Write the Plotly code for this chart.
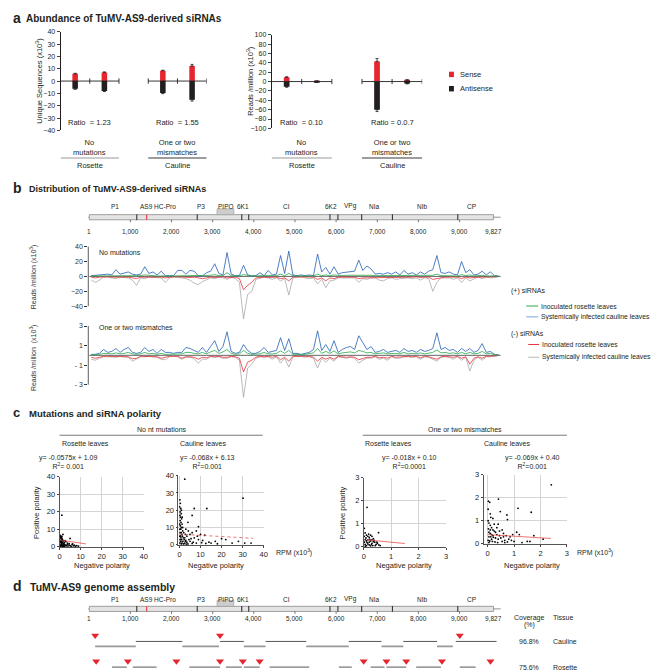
import plotly.graph_objects as go

W, H = 660, 671
FONT = "Liberation Sans"
RED = "#e5262f"
BLACK = "#231f20"
BLUE = "#2160b8"
GREEN = "#2aa84a"
TRED = "#e8303a"
GRAY = "#a8a8a8"


def X(p):
    return p / W


def Y(p):
    return 1 - p / H


# ---------------- data ----------------
# a: abundance of siRNAs (rosette no-mut, rosette 2nd bar, cauline mm, cauline 2nd bar)
uniq_sense = [5.9, 7.0, 8.4, 12.2]
uniq_anti = [-6.2, -8.0, -9.7, -15.1]
uniq_sense_err = [0.4, 0.4, 0.4, 1.3]
uniq_anti_err = [0.5, 0.5, 0.5, 1.1]
rpm_sense = [9, 1, 43, 3]
rpm_anti = [-11, -1, -60, -4]
rpm_sense_err = [1.2, 0.3, 6, 1]
rpm_anti_err = [1, 0.3, 4, 1]
ratio_uniq = ["Ratio  = 1.23", "Ratio  = 1.55"]
ratio_rpm = ["Ratio  = 0.10", "Ratio = 0.0.7"]
group_names = ["No<br>mutations", "One or two<br>mismatches"]
tissue_names = ["Rosette", "Cauline"]

# genome map
genome_ticks = [1, 1000, 2000, 3000, 4000, 5000, 6000, 7000, 8000, 9000, 9827]
genome_ticktext = ["1", "1,000", "2,000", "3,000", "4,000", "5,000", "6,000",
                   "7,000", "8,000", "9,000", "9,827"]
gene_names = ["P1", "AS9 HC-Pro", "P3", "PIPO", "6K1", "CI", "6K2", "VPg", "NIa", "NIb", "CP"]
gene_label_pos = [626, 1662, 2721, 3323, 3732, 4792, 5876, 6357, 6935, 8091, 9295]
gene_bounds = [1156, 2625, 3708, 3877, 5851, 6044, 6622, 7368, 8958]
mutation_pos = 1397
pipo_span = [3106, 3516]

# b: siRNA distribution, 100-nt bins
bin_pos = [50 + 100 * i for i in range(100)]
nomut_plus_rosette = [
    0.5, 0.5, 0.5, 1, 1, 0.5, 1.5, 1, 1, 1,
    0.5, 0.5, 1, 2, 1, 1, 0.5, 1, 0.5, 0.5,
    0.5, 1.5, 1.5, 1, 1.5, 1, 0.5, 0.5, 1, 1.5,
    2.5, 1, 1, 5, 1, 0.5, 0.5, 2.5, 1, 0.5,
    0.5, 1, 0.5, 1.5, 1, 1, 3, 1, 4, 1,
    0.5, 0.5, 0.5, 0.5, 0.5, 3, 1, 2, 1, 2,
    1, 1, 1.5, 1.5, 1.5, 2.5, 1.5, 2, 1.5, 1,
    1, 1, 1, 1, 1, 0.5, 1.5, 1, 1, 0.5,
    1, 1, 1.5, 1.5, 3, 1, 1, 1, 1, 0.5,
    2.5, 1, 2, 0.5, 1, 1.5, 0.5, 1, 0.5, 0.2]
nomut_plus_cauline = [
    1, 1.5, 2, 2, 3, 2, 9, 3, 4, 6,
    3, 2, 3, 13, 4, 6, 2, 7, 1, 0.5,
    1, 8, 8, 3, 8, 7, 1, 0.5, 5, 7,
    17, 4, 2, 32, 3, 1, 1, 15, 2, 1,
    1, 5, 1, 8, 2, 3, 28, 4, 34, 2,
    1, 2, 1, 2, 1, 30, 6, 12, 3, 13,
    3, 5, 6, 7, 7, 22, 8, 14, 10, 3,
    4, 3, 5, 3, 6, 2, 8, 3, 5, 2,
    6, 3, 7, 9, 28, 5, 4, 6, 3, 2,
    20, 5, 9, 2, 3, 7, 2, 6, 1, 0.5]
nomut_minus_rosette = [
    -1, -2, -1, -0.5, -0.5, -1, -1, -0.5, -0.5, -1,
    -2, -3, -1, -1, -0.5, -0.5, -1, -1, -2, -1,
    -0.5, -0.5, -1, -1, -1.5, -1, -2, -3, -2, -1,
    -1.5, -1, -0.5, -2, -1, -1, -3, -18, -12, -8,
    -2, -1, -1, -1.5, -1, -1, -3, -2, -6, -1,
    -0.5, -0.5, -1, -1, -1, -4, -2, -6, -2, -3,
    -1, -1, -1.5, -1, -1, -3, -2, -2, -1.5, -1,
    -2, -1.5, -2, -1, -1.5, -1, -1, -1, -1, -0.5,
    -1.5, -1, -1, -4, -3, -1, -1, -1, -1.5, -1,
    -3, -1, -2, -1, -1, -1, -0.5, -1, -0.5, -0.2]
nomut_minus_cauline = [
    -5, -8, -5, -1, -1, -2, -3, -1, -1, -2,
    -5, -12, -2, -3, -1, -1, -2, -2, -8, -2,
    -1, -1, -2, -3, -5, -9, -11, -7, -4, -2,
    -3, -1, -2, -4, -1, -3, -8, -57, -24, -20,
    -4, -2, -1, -2, -4, -2, -6, -3, -25, -2,
    -1, -1, -2, -3, -2, -10, -4, -15, -6, -5,
    -2, -2, -3, -2, -2, -8, -3, -4, -2, -2,
    -5, -6, -3, -2, -4, -3, -2, -2, -3, -2,
    -5, -2, -3, -20, -8, -2, -2, -2, -4, -2,
    -8, -2, -6, -3, -1, -3, -1, -2, -1, -0.5]
mm_plus_rosette = [
    0.05, 0.05, 0.1, 0.2, 0.15, 0.15, 0.25, 0.15, 0.2, 0.3,
    0.15, 0.1, 0.15, 0.3, 0.15, 0.2, 0.1, 0.2, 0.1, 0.1,
    0.1, 0.15, 0.15, 0.3, 0.3, 0.2, 0.15, 0.3, 0.15, 0.35,
    0.5, 0.2, 0.35, 0.6, 0.2, 0.1, 0.15, 0.5, 0.2, 0.1,
    0.1, 0.15, 0.3, 0.15, 0.15, 0.2, 0.45, 0.2, 0.5, 0.1,
    0.1, 0.05, 0.1, 0.15, 0.25, 0.7, 0.2, 0.4, 0.2, 0.45,
    0.15, 0.25, 0.3, 0.35, 0.25, 0.5, 0.4, 0.25, 0.3, 0.15,
    0.2, 0.25, 0.15, 0.2, 0.2, 0.15, 0.3, 0.15, 0.2, 0.15,
    0.25, 0.15, 0.2, 0.3, 0.55, 0.25, 0.3, 0.2, 0.25, 0.15,
    0.3, 0.15, 0.3, 0.15, 0.2, 0.4, 0.15, 0.2, 0.05, 0.02]
mm_plus_cauline = [
    0.1, 0.1, 0.2, 0.6, 0.3, 0.4, 0.7, 0.3, 0.6, 0.8,
    0.3, 0.2, 0.3, 0.8, 0.4, 0.6, 0.2, 0.6, 0.3, 0.3,
    0.2, 0.3, 0.3, 0.8, 0.7, 0.5, 0.3, 0.8, 0.3, 0.9,
    1.5, 0.4, 0.9, 2.4, 0.4, 0.2, 0.3, 1.1, 0.5, 0.2,
    0.2, 0.4, 0.8, 0.3, 0.4, 0.5, 1.8, 0.5, 1.7, 0.2,
    0.2, 0.1, 0.2, 0.3, 0.6, 2.5, 0.5, 1.1, 0.4, 1.5,
    0.3, 0.6, 0.8, 0.9, 0.6, 2.0, 1.3, 0.6, 0.9, 0.3,
    0.4, 0.6, 0.3, 0.4, 0.5, 0.3, 0.7, 0.4, 0.5, 0.3,
    0.6, 0.4, 0.5, 0.7, 2.3, 0.6, 0.8, 0.5, 0.6, 0.3,
    0.7, 0.4, 0.7, 0.3, 0.5, 1.2, 0.3, 0.4, 0.1, 0.05]
mm_minus_rosette = [
    -0.2, -0.3, -0.2, -0.1, -0.1, -0.1, -0.15, -0.1, -0.1, -0.15,
    -0.35, -0.3, -0.1, -0.1, -0.1, -0.1, -0.15, -0.3, -0.2, -0.1,
    -0.1, -0.1, -0.3, -0.15, -0.15, -0.2, -0.4, -0.2, -0.25, -0.1,
    -0.15, -0.1, -0.2, -0.2, -0.1, -0.15, -0.3, -1.7, -0.7, -0.5,
    -0.2, -0.1, -0.15, -0.1, -0.2, -0.1, -0.45, -0.2, -0.6, -0.1,
    -0.1, -0.1, -0.15, -0.1, -0.2, -0.6, -0.2, -0.4, -0.2, -0.4,
    -0.1, -0.15, -0.2, -0.15, -0.2, -0.45, -0.3, -0.2, -0.2, -0.1,
    -0.25, -0.2, -0.3, -0.1, -0.2, -0.15, -0.1, -0.1, -0.15, -0.1,
    -0.25, -0.1, -0.15, -0.3, -0.4, -0.15, -0.1, -0.15, -0.2, -0.1,
    -0.3, -0.15, -0.9, -0.3, -0.15, -0.3, -0.1, -0.1, -0.05, -0.02]
mm_minus_cauline = [
    -0.4, -0.5, -0.3, -0.15, -0.15, -0.2, -0.2, -0.1, -0.15, -0.2,
    -0.6, -0.4, -0.15, -0.15, -0.1, -0.15, -0.2, -0.4, -0.45, -0.15,
    -0.1, -0.15, -0.4, -0.2, -0.2, -0.35, -0.8, -0.4, -0.4, -0.15,
    -0.2, -0.15, -0.3, -0.3, -0.15, -0.2, -0.5, -4.3, -1.3, -0.9,
    -0.3, -0.15, -0.2, -0.15, -0.4, -0.15, -0.8, -0.3, -1.2, -0.15,
    -0.1, -0.1, -0.2, -0.15, -0.3, -1.3, -0.3, -0.7, -0.3, -0.6,
    -0.15, -0.2, -0.3, -0.2, -0.3, -0.8, -0.5, -0.3, -0.3, -0.15,
    -0.4, -0.3, -0.5, -0.15, -0.3, -0.3, -0.15, -0.15, -0.2, -0.15,
    -0.4, -0.15, -0.2, -0.4, -0.6, -0.2, -0.15, -0.2, -0.4, -0.15,
    -0.5, -0.2, -1.6, -0.5, -0.2, -0.5, -0.15, -0.15, -0.05, -0.02]

# c: negative vs positive polarity RPM per position (x = negative, y = positive)
pol_rosette_nomut = [
    (1.1, 18), (1.6, 7), (5, 4.7), (0.2, 0.2), (0.4, 0.4), (0.6, 0.8), (0.8, 1.2), (1.0, 1.6),
    (1.2, 2.0), (0.3, 2.4), (0.5, 2.8), (0.7, 3.2), (0.9, 3.6), (1.1, 4.0), (1.4, 0.3), (1.6, 0.7),
    (1.8, 1.1), (2.0, 1.5), (0.2, 4.5), (0.5, 5.0), (0.8, 5.4), (1.2, 4.8), (1.5, 3.9), (2.2, 2.5),
    (2.5, 1.2), (0.3, 0.5), (0.6, 0.2), (1.0, 0.9), (1.4, 0.6), (1.9, 0.4), (2.4, 0.3), (2.8, 0.8),
    (3.2, 0.5), (3.6, 1.2), (4.0, 0.4), (4.5, 1.0), (5.0, 0.6), (5.5, 0.3), (6.0, 1.3), (6.5, 0.5),
    (7.0, 0.9), (7.5, 0.3), (8.2, 0.6), (9.0, 0.4), (0.4, 3.0), (0.9, 2.2), (1.3, 2.7), (1.7, 3.3),
    (2.1, 1.9), (0.6, 6.0), (1.1, 5.9), (0.3, 6.5), (3.0, 2.9), (6.2, 1.6), (2.6, 3.5), (0.1, 1.0),
    (0.1, 3.0), (0.2, 5.5), (3.8, 2.0), (4.6, 1.8)]
pol_cauline_nomut = [
    (2.5, 38), (30.2, 27), (0.2, 26), (0.4, 24), (0.1, 22), (0.6, 21), (0.3, 19), (0.8, 18),
    (0.2, 17), (0.5, 16), (1.0, 15), (0.3, 14), (0.7, 13), (0.1, 12), (1.2, 12), (0.4, 11),
    (0.9, 10), (0.2, 9), (0.6, 9), (1.5, 8), (0.3, 7), (0.8, 7), (1.1, 6), (0.2, 5), (0.5, 5),
    (1.4, 5), (0.7, 4), (1.8, 4), (0.3, 3), (1.0, 3), (2.2, 3), (0.6, 2), (1.6, 2), (2.8, 2),
    (0.2, 1), (1.2, 1), (2.5, 1), (3.5, 1.5), (0.9, 0.5), (2.0, 0.5), (4.0, 0.5), (7, 21),
    (13, 21), (6, 17), (4, 13), (9, 10.5), (8, 8), (6, 7), (3, 9), (5, 6), (10, 6), (12, 5.5),
    (3.5, 5), (7, 4), (9, 3), (5, 2), (6.5, 1.5), (8, 1), (11, 2.5), (14, 1.5), (15, 1), (17, 2),
    (20, 3.5), (22, 3), (25, 1), (28, 2), (31, 1), (34, 1), (2.5, 4), (4.5, 3), (3, 2.5),
    (5.5, 3.5), (8.5, 5), (2, 7), (1.5, 10), (2.8, 6), (4.2, 8), (1.3, 16), (0.9, 20),
    (10.5, 1.2), (12.5, 0.8), (18, 0.6), (6, 0.8), (3.2, 0.4)]
pol_rosette_mm = [
    (0.12, 1.71), (0.54, 0.61), (0.02, 0.8), (0.05, 0.6), (0.1, 0.5), (0.15, 0.45), (0.2, 0.4),
    (0.25, 0.5), (0.3, 0.45), (0.35, 0.35), (0.05, 0.3), (0.1, 0.25), (0.15, 0.3), (0.2, 0.2),
    (0.25, 0.25), (0.3, 0.15), (0.4, 0.2), (0.45, 0.1), (0.5, 0.15), (0.55, 0.08), (0.6, 0.05),
    (0.05, 0.1), (0.1, 0.05), (0.15, 0.12), (0.2, 0.08), (0.25, 0.04), (0.3, 0.3), (0.35, 0.22),
    (0.02, 0.45), (0.08, 0.38), (0.12, 0.18), (0.18, 0.55), (0.28, 0.1), (0.38, 0.28),
    (0.42, 0.05), (0.48, 0.2), (0.02, 0.2), (0.06, 0.02), (0.33, 0.05), (0.22, 0.32)]
pol_cauline_mm = [
    (2.41, 2.56), (0.41, 1.94), (0.03, 1.85), (0.08, 1.8), (1.15, 1.54), (1.65, 1.37), (0.48, 1.4),
    (0.73, 1.25), (0.02, 1.5), (0.1, 1.3), (0.2, 1.1), (0.75, 1.05), (0.4, 0.85), (0.55, 0.6),
    (1.1, 0.5), (1.2, 0.4), (1.75, 0.35), (2.1, 0.2), (1.5, 0.1), (1.6, 0.1), (0.02, 1.0),
    (0.05, 0.9), (0.1, 0.8), (0.15, 0.7), (0.03, 0.65), (0.2, 0.6), (0.25, 0.55), (0.3, 0.5),
    (0.05, 0.5), (0.1, 0.45), (0.15, 0.4), (0.35, 0.4), (0.45, 0.35), (0.05, 0.3), (0.12, 0.3),
    (0.22, 0.28), (0.3, 0.25), (0.4, 0.2), (0.5, 0.25), (0.6, 0.3), (0.7, 0.35), (0.8, 0.2),
    (0.9, 0.15), (0.02, 0.15), (0.08, 0.12), (0.18, 0.1), (0.28, 0.08), (0.38, 0.05), (0.55, 0.1),
    (0.65, 0.05), (0.75, 0.08), (0.85, 0.3), (1.0, 0.1), (1.3, 0.05), (0.25, 0.85), (0.12, 1.15),
    (0.35, 0.7), (0.6, 0.45), (0.95, 0.4), (0.05, 0.05), (0.15, 0.2), (0.45, 0.55), (0.65, 0.15),
    (0.2, 0.35), (0.1, 0.6)]
trend_x = [[0.5, 12.5], [0, 35], [0.1, 1.5], [0, 2.4]]
trend_y = [[3.8, 1.6], [6.13, 3.75], [0.3, 0.14], [0.40, 0.23]]
equations = ["y= -0.0575x + 1.09<br>R<sup>2</sup>= 0.001", "y= -0.068x + 6.13<br>R<sup>2</sup>=0.001",
             "y= -0.018x + 0.10<br>R<sup>2</sup>=0.0001", "y= -0.069x + 0.40<br>R<sup>2</sup>=0.001"]

# d: assembled contigs (start, end) and mismatch sites
cauline_contigs_a = [(1132, 2264), (3179, 3757), (4286, 5274), (6309, 7104), (7633, 8452), (8909, 9900)]
cauline_contigs_b = [(144, 1132), (2264, 3154), (3757, 4286), (5274, 6309), (7104, 7633), (8452, 8837)]
rosette_contigs_a = [(554, 915), (1060, 1637), (2432, 3179), (3323, 3708), (3757, 4142), (4383, 5346),
                     (6068, 6381), (6839, 7176), (7224, 7706), (7946, 8548), (9006, 9391)]
rosette_contigs_b = [(241, 554), (1637, 2143), (5346, 6068), (6381, 6694), (9415, 9704)]
cauline_sites = [144, 3179, 9006]
rosette_sites = [169, 939, 2119, 3179, 3732, 4142, 6670, 7224, 7706, 8573, 9752]
coverage = ["96.8%", "75.6%"]

# ---------------- figure ----------------
fig = go.Figure()
shapes, annos = [], []


def txt(x, y, s, size=7, anchor="center", xref="paper", angle=0, color=BLACK, bold=False):
    if bold:
        s = "<b>" + s + "</b>"
    annos.append(dict(x=X(x) if xref == "paper" else x, y=Y(y), xref=xref, yref="paper", text=s,
                      showarrow=False, xanchor=anchor, yanchor="middle", textangle=angle,
                      font=dict(family=FONT, size=size, color=color)))


def line(x0, y0, x1, y1, xref="paper", yref="paper", color=BLACK, width=0.8, dash="solid", layer="above"):
    shapes.append(dict(type="line", xref=xref, yref=yref,
                       x0=X(x0) if xref == "paper" else x0, x1=X(x1) if xref == "paper" else x1,
                       y0=Y(y0) if yref == "paper" else y0, y1=Y(y1) if yref == "paper" else y1,
                       line=dict(color=color, width=width, dash=dash), layer=layer))


# ---- panel a ----
BAR_X = [0.5, 1.5, 3.5, 4.5]
txt(1, 6, "a", size=14, anchor="left", bold=True)
txt(14, 7, "Abundance of TuMV-AS9-derived siRNAs", size=10, anchor="left", bold=True)

for (xa, ya, sense, anti, se, ae, tick_h, ratios) in [
        ("x", "y", uniq_sense, uniq_anti, uniq_sense_err, uniq_anti_err, 2.2, ratio_uniq),
        ("x2", "y2", rpm_sense, rpm_anti, rpm_sense_err, rpm_anti_err, 5.5, ratio_rpm)]:
    fig.add_trace(go.Bar(x=BAR_X, y=sense, width=0.19, marker=dict(color=RED, line_width=0),
                         error_y=dict(type="data", symmetric=False, array=se, arrayminus=[0] * 4,
                                      color=BLACK, thickness=0.8, width=1.5),
                         xaxis=xa, yaxis=ya, showlegend=False))
    fig.add_trace(go.Bar(x=BAR_X, y=anti, width=0.19, marker=dict(color=BLACK, line_width=0),
                         error_y=dict(type="data", symmetric=False, array=[0] * 4, arrayminus=ae,
                                      color=BLACK, thickness=0.8, width=1.5),
                         xaxis=xa, yaxis=ya, showlegend=False))
    for gi, (g0, g1) in enumerate([(0, 2), (3, 5)]):
        line(g0, 0, g1, 0, xref=xa, yref=ya, width=0.9)
        for t in [g0, g0 + 1, g1]:
            if t > 0:
                line(t, -tick_h, t, tick_h, xref=xa, yref=ya, width=0.9)
        xc = (g0 + g1) / 2
        annos.append(dict(x=xc, y=Y(112), xref=xa, yref="paper", text=ratios[gi], showarrow=False,
                          yanchor="middle", font=dict(size=7.5, family=FONT, color=BLACK)))
        annos.append(dict(x=xc, y=Y(137), xref=xa, yref="paper", text=group_names[gi], showarrow=False,
                          yanchor="middle", font=dict(size=7.5, family=FONT, color=BLACK)))
        line(g0, 148, g1, 148, xref=xa, color="#9a9a9a" if gi == 0 else "#3a3a3a", width=1.2)
        annos.append(dict(x=xc, y=Y(156), xref=xa, yref="paper", text=tissue_names[gi], showarrow=False,
                          yanchor="middle", font=dict(size=7.5, family=FONT, color=BLACK)))

txt(29, 70, "Unique Sequences (x10<sup>3</sup>)", size=7.5, angle=-90)
txt(242, 70, "Reads /million (x10<sup>3</sup>)", size=7.5, angle=-90)
shapes.append(dict(type="rect", xref="paper", yref="paper", x0=X(443), x1=X(448), y0=Y(66), y1=Y(60.5),
                   fillcolor=RED, line_width=0))
shapes.append(dict(type="rect", xref="paper", yref="paper", x0=X(443), x1=X(448), y0=Y(80.5), y1=Y(75),
                   fillcolor=BLACK, line_width=0))
txt(452, 63.5, "Sense", size=7.5, anchor="left")
txt(452, 78, "Antisense", size=7.5, anchor="left")


# ---- genome map helper ----
def genome_map(xref, yc, ylab, ytick):
    top, bot = yc - 2.6, yc + 2.6
    line(-70, yc, 1, yc, xref=xref, color="#777", width=0.8)
    line(9827, yc, 10000, yc, xref=xref, color="#777", width=0.8)
    shapes.append(dict(type="rect", xref=xref, yref="paper", x0=1, x1=9827, y0=Y(bot), y1=Y(top),
                       fillcolor="#e4e4e4", line=dict(color="#8a8a8a", width=0.8)))
    shapes.append(dict(type="rect", xref=xref, yref="paper", x0=pipo_span[0], x1=pipo_span[1],
                       y0=Y(top), y1=Y(top - 6), fillcolor="#cdcdcd", line=dict(color="#9a9a9a", width=0.6)))
    for g in gene_bounds:
        line(g, top - 0.3, g, bot + 0.3, xref=xref, color="#222", width=1)
    line(mutation_pos, top, mutation_pos, bot, xref=xref, color=RED, width=1)
    for t in genome_ticks[1:-1]:
        line(t, bot, t, bot + 2.5, xref=xref, color="#555", width=0.8)
    for t, s in zip(genome_ticks, genome_ticktext):
        txt(t, ytick, s, size=6.5, xref=xref)
    for p, s in zip(gene_label_pos, gene_names):
        txt(p, ylab, s, size=6.5, xref=xref)


# ---- panel b ----
txt(1, 178, "b", size=14, anchor="left", bold=True)
txt(17, 179, "Distribution of TuMV-AS9-derived siRNAs", size=9, anchor="left", bold=True)
genome_map("x3", 208, 197, 222)

for xa, ya, series in [("x3", "y3", [nomut_minus_cauline, nomut_minus_rosette, nomut_plus_cauline, nomut_plus_rosette]),
                       ("x4", "y4", [mm_minus_cauline, mm_minus_rosette, mm_plus_cauline, mm_plus_rosette])]:
    for vals, col in zip(series, [GRAY, TRED, BLUE, GREEN]):
        fig.add_trace(go.Scatter(x=bin_pos, y=vals, mode="lines", line=dict(color=col, width=0.8),
                                 xaxis=xa, yaxis=ya, showlegend=False, hoverinfo="skip"))
    line(1, 0, 10000, 0, xref=xa, yref=ya, color="#555", width=0.9, layer="below")

line(79, -40, 79, 40, yref="y3", color="#333")
line(79, -3, 79, 3, yref="y4", color="#333")
txt(88, 244, "No mutations", size=7, anchor="left")
txt(88, 320, "One or two mismatches", size=7, anchor="left")
txt(24, 268, "Reads /million (x10<sup>3</sup>)", size=7, angle=-90, color="#333")
txt(24, 350, "Reads /million  (x10<sup>3</sup>)", size=7, angle=-90, color="#333")

txt(504, 283, "(+) siRNAs", size=7, anchor="left")
line(521, 298, 533, 298, color=GREEN, width=1)
txt(534, 298, "Inoculated rosette leaves", size=6.8, anchor="left")
line(521, 309, 533, 309, color="#8fb2e4", width=1.2)
txt(534, 309, "Systemically infected cauline leaves", size=6.8, anchor="left")
txt(504, 326, "(-) siRNAs", size=7, anchor="left")
line(523, 337, 534, 337, color=TRED, width=1)
txt(535, 337, "Inoculated rosette leaves", size=6.8, anchor="left")
line(523, 350, 534, 350, color="#c4c4c4", width=1.2)
txt(535, 350, "Systemically infected cauline leaves", size=6.8, anchor="left")

# ---- panel c ----
txt(1, 406, "c", size=13, anchor="left", bold=True)
txt(17, 407, "Mutations and siRNA polarity", size=9.5, anchor="left", bold=True)
txt(153, 423, "No nt mutations", size=7)
line(50, 429, 255, 429, color="#555", width=0.8)
txt(459, 423, "One or two mismatches", size=7)
line(356, 429, 562, 429, color="#555", width=0.8)
for xx, s in [(50, "Rosette leaves"), (170, "Cauline leaves"), (356, "Rosette leaves"), (476, "Cauline leaves")]:
    txt(xx, 437, s, size=7, anchor="left")

scat = [("x5", "y5", pol_rosette_nomut, (50, 135), (471, 542), [0, 40], [0, 10, 20, 30, 40]),
        ("x6", "y6", pol_cauline_nomut, (170, 256), (470, 540), [-0.5, 40], [0, 10, 20, 30, 40]),
        ("x7", "y7", pol_rosette_mm, (357, 440), (472, 542), [0, 3], [0, 1, 2, 3]),
        ("x8", "y8", pol_cauline_mm, (478, 562), (469, 539), [-0.15, 3], [0, 1, 2, 3])]
eq_x = [59, 199, 403, 527]
neg_x = [93, 208, 398, 527]
for i, (xa, ya, pts, dx, dy, xr, tv) in enumerate(scat):
    fig.add_trace(go.Scatter(x=[p[0] for p in pts], y=[p[1] for p in pts], mode="markers",
                             marker=dict(color="black", size=1.8), xaxis=xa, yaxis=ya,
                             showlegend=False, cliponaxis=False))
    fig.add_trace(go.Scatter(x=trend_x[i], y=trend_y[i], mode="lines",
                             line=dict(color="#e8403a", width=0.9, dash="dot" if i == 1 else "solid"),
                             opacity=0.8, xaxis=xa, yaxis=ya, showlegend=False))
    ax = dict(domain=[X(dx[0]), X(dx[1])], range=xr, tickvals=tv, ticks="outside", ticklen=2,
              showgrid=True, gridcolor="#d4d4d4", gridwidth=0.8, showline=True, linecolor="#555",
              linewidth=0.8, zeroline=False, tickfont=dict(size=7.5), anchor=ya)
    ay = dict(domain=[Y(dy[1]), Y(dy[0])], range=[0, tv[-1]], tickvals=tv, ticks="outside", ticklen=2,
              showgrid=True, gridcolor="#d4d4d4", gridwidth=0.8, showline=True, linecolor="#555",
              linewidth=0.8, zeroline=False, tickfont=dict(size=7.5), anchor=xa)
    fig.layout["xaxis" + xa[1:]] = ax
    fig.layout["yaxis" + ya[1:]] = ay
    txt(eq_x[i], 456, equations[i], size=7)
    txt(neg_x[i], 561, "Negative polarity", size=7.5)
txt(26, 507, "Positive polarity", size=7.5, angle=-90)
txt(335, 507, "Positive polarity", size=7.5, angle=-90)
txt(266, 548, "RPM (x10<sup>3</sup>)", size=7, anchor="left")
txt(570, 548, "RPM (x10<sup>3</sup>)", size=7, anchor="left")

# ---- panel d ----
txt(1, 582, "d", size=14, anchor="left", bold=True)
txt(18, 583, "TuMV-AS9 genome assembly", size=10.5, anchor="left", bold=True)
genome_map("x9", 605, 595, 615)
txt(524, 614, "Coverage", size=7)
txt(524, 621, "(%)", size=7)
txt(546, 614, "Tissue", size=7, anchor="left")


def segs(contigs):
    xs = []
    for a, b in contigs:
        xs += [a, b, None]
    return xs


for contigs, row, col, w in [(cauline_contigs_a, 638, "#444", 0.9), (cauline_contigs_b, 643, "#999", 1.6),
                             (rosette_contigs_a, 664, "#444", 0.9), (rosette_contigs_b, 669, "#444", 0.9)]:
    xs = segs(contigs)
    fig.add_trace(go.Scatter(x=xs, y=[row if v is not None else None for v in xs], mode="lines",
                             line=dict(color=col, width=w), xaxis="x9", yaxis="y9",
                             showlegend=False, connectgaps=False))
for sites, row in [(cauline_sites, 632), (rosette_sites, 658)]:
    fig.add_trace(go.Scatter(x=sites, y=[row] * len(sites), mode="markers",
                             marker=dict(symbol="triangle-down", size=7, color=RED),
                             xaxis="x9", yaxis="y9", showlegend=False))
txt(524, 638, coverage[0], size=7)
txt(546, 638, "Cauline", size=7, anchor="left")
txt(524, 664, coverage[1], size=7)
txt(546, 664, "Rosette", size=7, anchor="left")

# ---------------- layout ----------------
G0, G1 = -23, 10116
noax = dict(visible=False)
fig.update_layout(
    width=W, height=H, margin=dict(l=0, r=0, t=0, b=0),
    paper_bgcolor="white", plot_bgcolor="white",
    font=dict(family=FONT, size=7, color=BLACK),
    barmode="overlay", showlegend=False,
    xaxis=dict(domain=[X(51), X(198.5)], range=[0, 5], anchor="y", **noax),
    yaxis=dict(domain=[Y(120), Y(20)], range=[-40, 40], tickvals=list(range(-40, 41, 10)),
               ticks="outside", ticklen=3, showline=True, linecolor=BLACK, linewidth=0.8,
               showgrid=False, zeroline=False, tickfont=dict(size=7), anchor="x"),
    xaxis2=dict(domain=[X(264), X(416)], range=[0, 5], anchor="y2", **noax),
    yaxis2=dict(domain=[Y(118), Y(23)], range=[-100, 100], tickvals=list(range(-100, 101, 20)),
                ticks="outside", ticklen=3, showline=True, linecolor=BLACK, linewidth=0.8,
                showgrid=False, zeroline=False, tickfont=dict(size=7), anchor="x2"),
    xaxis3=dict(domain=[X(79), X(500)], range=[G0, G1], anchor="y3", **noax),
    yaxis3=dict(domain=[Y(314.8), Y(236.3)], range=[-62, 42], tickvals=[-40, -20, 0, 20, 40],
                ticks="outside", ticklen=3, tickcolor="#333", showline=False, showgrid=False,
                zeroline=False, tickfont=dict(size=7, color="#333"), anchor="x3"),
    xaxis4=dict(domain=[X(79), X(500)], range=[G0, G1], anchor="y4", **noax),
    yaxis4=dict(domain=[Y(392), Y(315)], range=[-4.44, 3.33], tickvals=[-3, -1, 1, 3],
                ticktext=["- 3", "- 1", "1", "3"], ticks="outside", ticklen=3, tickcolor="#333",
                showline=False, showgrid=False, zeroline=False, tickfont=dict(size=7, color="#333"),
                anchor="x4"),
    xaxis9=dict(domain=[X(79), X(500)], range=[G0, G1], anchor="y9", **noax),
    yaxis9=dict(domain=[0, Y(590)], range=[671, 590], anchor="x9", **noax),
    shapes=shapes, annotations=annos,
)

fig.write_html("out.html")
